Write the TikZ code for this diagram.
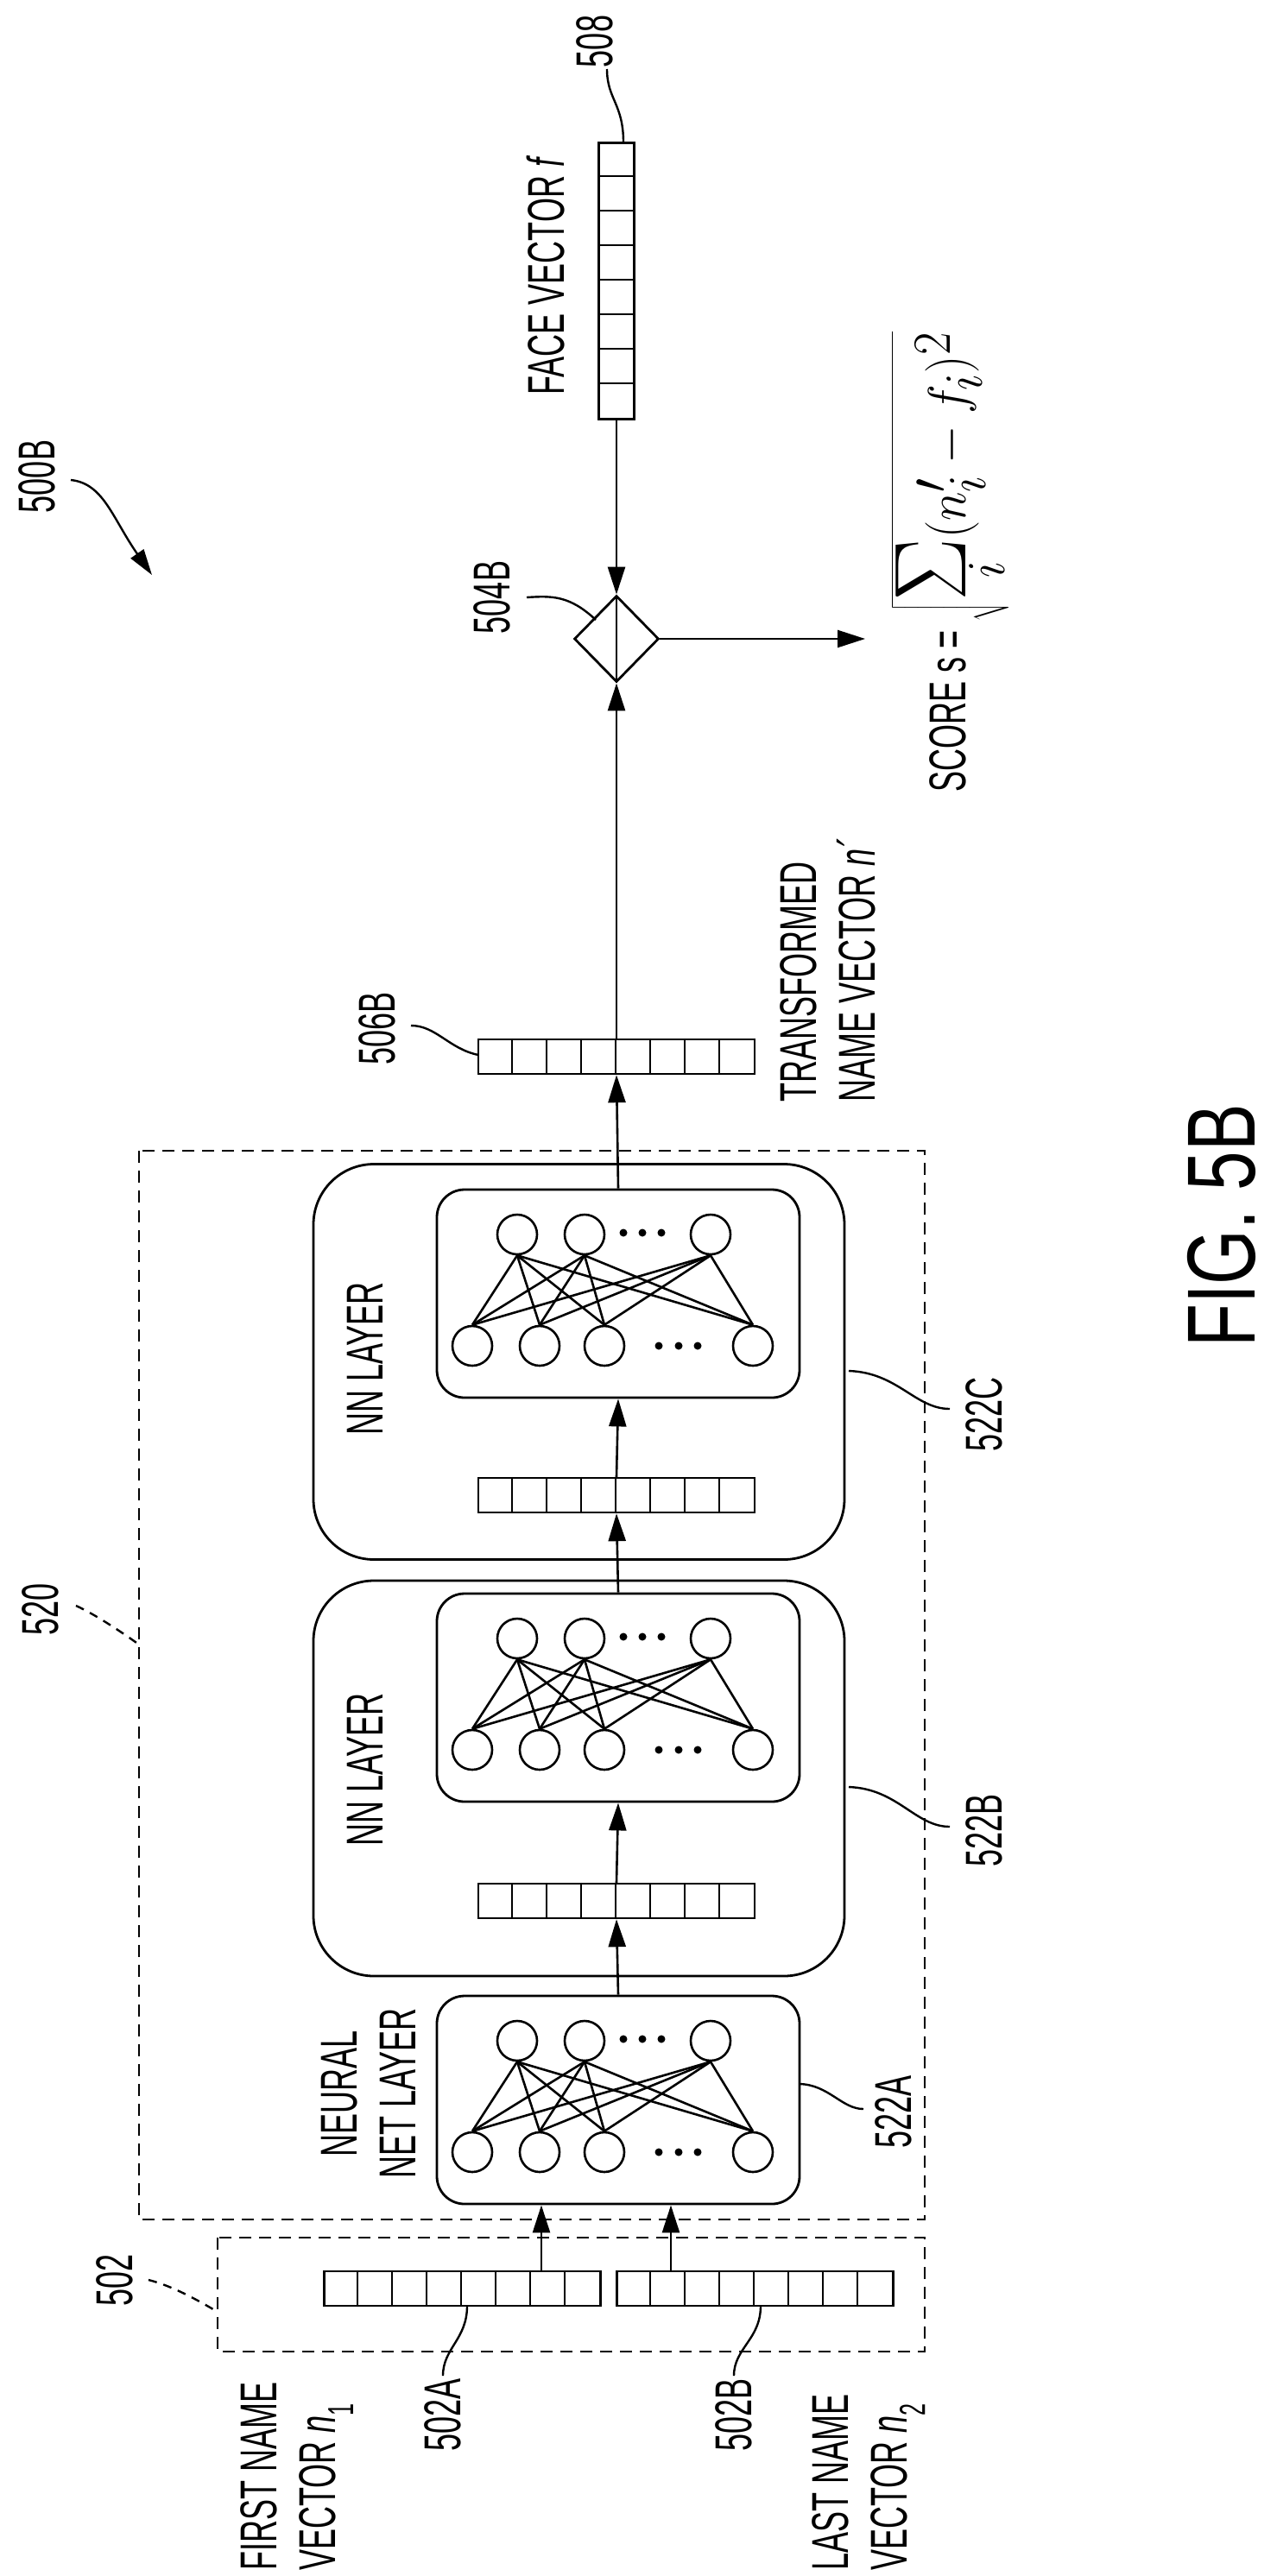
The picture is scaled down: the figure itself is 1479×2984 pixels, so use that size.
\documentclass[tikz,border=0pt]{standalone}
\usepackage{fontspec}
\setmainfont{Liberation Sans}[FakeStretch=0.6]
\newfontfamily\figfont{Liberation Sans}[FakeStretch=0.73]
\usetikzlibrary{arrows.meta,shapes.geometric}
\newcommand\vecH[3]{% name, center x, center y (horizontal 8-cell vector)
  \node[vec] (#1) at (#2,#3) {};
  \foreach \k in {1,...,7}{\draw[thin line] ([xshift=\k*40pt]#1.north west) -- ([xshift=\k*40pt]#1.south west);}
}
\newcommand\mynet[2]{% prefix, inner top y
  \node[inner box] (#1box) at (716,{#2+120.5}) {};
  \foreach \n/\x in {1/599,2/677,3/823}{\node[neuron] (#1t\n) at (\x,{#2+52}) {};}
  \foreach \n/\x in {1/547,2/625,3/700,4/872}{\node[neuron] (#1b\n) at (\x,{#2+181}) {};}
  \foreach \x in {722,744,766}{\fill (\x,{#2+50}) circle (4.5);}
  \foreach \x in {763,786,808}{\fill (\x,{#2+181}) circle (4.5);}
  \foreach \i in {1,2,3}{\foreach \j in {1,2,3,4}{\draw[line] (#1t\i.south) -- (#1b\j.north);}}
}
\begin{document}
\begin{tikzpicture}[x=1pt,y=-1pt,
  line/.style={line width=2.6pt},
  thin line/.style={line width=2.2pt},
  vec/.style={draw,line width=2.4pt,minimum width=320pt,minimum height=40pt,inner sep=0pt},
  neuron/.style={draw,line width=2.6pt,ellipse,minimum width=46pt,minimum height=46pt,inner sep=0pt},
  inner box/.style={draw,line width=2.8pt,rounded corners=32pt,minimum width=420pt,minimum height=241pt},
  outer box/.style={draw,line width=2.8pt,rounded corners=70pt,minimum width=615pt,minimum height=458pt},
  dash box/.style={draw,line width=2.6pt,dash pattern=on 14pt off 9pt},
  arr/.style={line width=2.6pt,-{Triangle[length=32pt,width=20pt]}},
  lbl/.style={rotate=90,font=\fontsize{60}{68}\selectfont,inner sep=0pt},
  lead/.style={line width=2.4pt}]
\useasboundingbox (0,0) rectangle (1479,2984);

% dashed boxes
\draw[dash box] (161,1333) rectangle (1071,2571);
\draw[dash box] (252,2592) rectangle (1071,2724);

% outer boxes
\node[outer box] (o522C) at (670.5,1577.5) {};
\node[outer box] (o522B) at (670.5,2060) {};

% nets
\mynet{C}{1378}
\mynet{B}{1846}
\mynet{A}{2312}

% vectors
\vecH{v506}{714}{1224}
\vecH{vC}{714}{1732}
\vecH{vB}{714}{2202}
\vecH{v502A}{535.5}{2651}
\vecH{v502B}{874.5}{2651}

% face vector (vertical)
\node[draw,line width=2.4pt,minimum width=41pt,minimum height=320pt,inner sep=0pt] (face) at (714,325.5) {};
\foreach \k in {1,...,7}{\draw[thin line] ([yshift=-\k*40pt]face.north west) -- ([yshift=-\k*40pt]face.north east);}

% diamond
\node[draw,line width=2.8pt,diamond,minimum width=98pt,minimum height=100pt,inner sep=0pt] (dia) at (714,740) {};
\draw[line] (dia.north) -- (dia.south);
\coordinate (out) at (1002,740);

% arrows
\draw[arr] (face.south) -- (dia.north);
\draw[arr] (v506.north) -- (dia.south);
\draw[arr] (dia.east) -- (out);
\draw[arr] (Cbox.north) -- (v506.south);
\draw[arr] (vC.north) -- (Cbox.south);
\draw[arr] (Bbox.north) -- (vC.south);
\draw[arr] (vB.north) -- (Bbox.south);
\draw[arr] (Abox.north) -- (vB.south);
\draw[arr] (v502A.north -| 627,0) coordinate (a1) -- (Abox.south -| a1);
\draw[arr] (v502B.north -| 777,0) coordinate (a2) -- (Abox.south -| a2);

% formula
\node[lbl,anchor=west] (score) at (1100,918) {SCORE s = \scalebox{2.3}[2.5]{$\sqrt{\mathop{\hbox{\scalebox{1.9}{$\Sigma$}}}\limits_{i}(n_i' - f_i)^2}$}};

% labels
\node[lbl] (l508) at (689,48) {508};
\node[lbl] (lface) at (632,319) {FACE VECTOR \textit{f}};
\node[lbl] (l504) at (570,692) {504B};
\node[lbl] (l500) at (43,552) {500B};
\node[lbl] (l506) at (437,1191) {506B};
\node[lbl,anchor=west,align=left] (ltrans) at (959,1277) {TRANSFORMED\\NAME VECTOR \textit{n\textasciiacute}};
\node[lbl] (lnnC) at (423,1574) {NN LAYER};
\node[lbl] (lnnB) at (423,2050) {NN LAYER};
\node[lbl,align=center] (lnnA) at (427,2425) {NEURAL\\NET LAYER};
\node[lbl] (l522C) at (1140,1638) {522C};
\node[lbl] (l522B) at (1140,2120) {522B};
\node[lbl] (l522A) at (1035,2446) {522A};
\node[lbl] (l520) at (47,1864) {520};
\node[lbl] (l502) at (133,2641) {502};
\node[lbl] (l502A) at (513,2797) {502A};
\node[lbl] (l502B) at (850,2797) {502B};
\node[lbl,anchor=west,align=left] (lfirst) at (344,2978) {FIRST NAME\\VECTOR \textit{n}\textsubscript{1}};
\node[lbl,anchor=west,align=left] (llast) at (1006,2978) {LAST NAME\\VECTOR \textit{n}\textsubscript{2}};
\node[rotate=90,inner sep=0pt,font=\figfont\fontsize{112}{120}\selectfont] (fig) at (1415,1420) {FIG. 5B};

% leaders
\draw[lead] (722,165) .. controls (722,120) and (703,115) .. (703,80);
\draw[lead] (690,718) .. controls (660,690) and (640,690) .. (610,692);
\draw[lead,-{Triangle[length=30pt,width=18pt]}] (82,556) .. controls (120,560) and (130,600) .. (176,666);
\draw[lead] (554,1222) .. controls (520,1215) and (505,1188) .. (476,1188);
\draw[lead] (983,1588) .. controls (1040,1590) and (1060,1632) .. (1100,1632);
\draw[lead] (983,2070) .. controls (1040,2072) and (1060,2116) .. (1100,2116);
\draw[lead] (926,2414) .. controls (960,2415) and (975,2443) .. (1000,2443);
\draw[lead,dash pattern=on 10pt off 8pt] (88,1860) .. controls (110,1870) and (140,1890) .. (161,1905);
\draw[lead,dash pattern=on 10pt off 8pt] (172,2641) .. controls (200,2648) and (230,2665) .. (252,2678);
\draw[lead] (541,2671) .. controls (541,2710) and (513,2720) .. (513,2752);
\draw[lead] (881,2671) .. controls (881,2710) and (850,2720) .. (850,2752);
\end{tikzpicture}
\end{document}
